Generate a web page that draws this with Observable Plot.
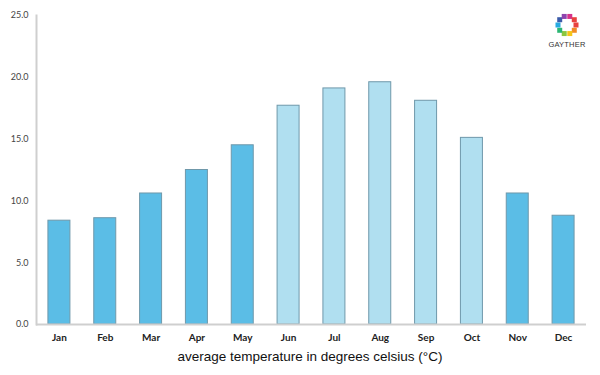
<!DOCTYPE html>
<html>
<head>
<meta charset="utf-8">
<script src="https://cdn.jsdelivr.net/npm/d3@7"></script>
<script src="https://cdn.jsdelivr.net/npm/@observablehq/plot@0.6"></script>
<style>
  html, body { margin: 0; padding: 0; background: #fff; }
  #wrap { position: relative; width: 600px; height: 375px; }
  #caption { text-align: center; font-family: "Liberation Sans", Arial, sans-serif; font-size: 13.5px; color: #111; padding-left: 20px; margin-top: 4px; }
  #logo { position: absolute; left: 540px; top: 13px; width: 54px; text-align: center; line-height: 1; }
  #logo .name { font-family: "Liberation Sans", Arial, sans-serif; font-size: 7.5px; color: #333; letter-spacing: 0.2px; margin-top: 1px; }
</style>
</head>
<body>
<div id="wrap">
  <div id="chart"></div>
  <div id="caption">average temperature in degrees celsius (°C)</div>
  <div id="logo"><svg id="ring" width="26" height="24"></svg><div class="name">GAYTHER</div></div>
</div>
<script>
const months = ["Jan","Feb","Mar","Apr","May","Jun","Jul","Aug","Sep","Oct","Nov","Dec"];
const temps = [8.4, 8.6, 10.6, 12.5, 14.5, 17.7, 19.1, 19.6, 18.1, 15.1, 10.6, 8.8];
const yTicks = [0, 5, 10, 15, 20, 25];
const warmThreshold = 15;

const data = months.map((m, i) => ({month: m, temp: temps[i], warm: temps[i] >= warmThreshold}));

const chart = Plot.plot({
  width: 600,
  height: 345,
  marginTop: 15,
  marginBottom: 21,
  marginLeft: 36,
  marginRight: 14,
  style: {fontFamily: "Lato, 'DejaVu Sans', sans-serif", background: "#fff"},
  x: {domain: months, paddingInner: 0.52, paddingOuter: 0.26, round: false, label: null},
  y: {domain: [0, 25], label: null},
  marks: [
    Plot.frame({anchor: "left", stroke: "#cfcfcf", strokeWidth: 2}),
    Plot.barY(data, {x: "month", y: "temp", fill: d => d.warm ? "#b0dff0" : "#5bbde6", stroke: "#6f98aa", strokeWidth: 1}),
    Plot.ruleY([0], {stroke: "#cfcfcf", strokeWidth: 2}),
    Plot.axisY(yTicks, {tickSize: 0, tickPadding: 8, tickFormat: d3.format(".1f"), fontSize: 9, fill: "#444", label: null}),
    Plot.axisX({tickSize: 0, tickPadding: 9, fontSize: 10, fontWeight: "bold", fill: "#222", label: null})
  ]
});
document.getElementById("chart").appendChild(chart);

// logo ring
const ring = d3.select("#ring");
const colors = ["#e8423f","#f28c28","#f5c518","#8cc63f","#2bb673","#27aae1","#3b5ba9","#8e44ad","#d6338a","#e8423f"];
const n = 10;
for (let i = 0; i < n; i++) {
  const a = i / n * 2 * Math.PI;
  ring.append("rect")
    .attr("x", 13 + 9 * Math.cos(a) - 2.5)
    .attr("y", 12 + 9 * Math.sin(a) - 2.5)
    .attr("width", 5).attr("height", 5)
    .attr("fill", colors[i]);
}
</script>
</body>
</html>
